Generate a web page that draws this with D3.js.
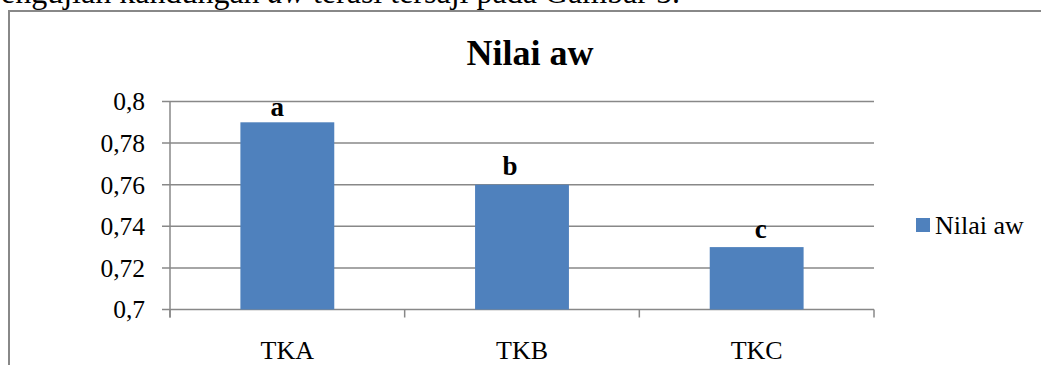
<!DOCTYPE html>
<html>
<head>
<meta charset="utf-8">
<script src="https://cdn.jsdelivr.net/npm/d3@7"></script>
<style>
  body { margin: 0; background: #fff; }
  svg text { font-family: "Liberation Serif", "DejaVu Serif", "Times New Roman", serif; }
</style>
</head>
<body>
<svg id="chart"></svg>
<script>
// data
const categories = ["TKA", "TKB", "TKC"];
const awValues = [0.79, 0.76, 0.73];
const sigLetters = ["a", "b", "c"];
const yTicks = [0.7, 0.72, 0.74, 0.76, 0.78, 0.8];
const yTickLabels = ["0,7", "0,72", "0,74", "0,76", "0,78", "0,8"];
const seriesName = "Nilai aw";

const W = 1041, H = 365;
const plot = {left: 170, right: 874, top: 101.5, bottom: 309.5};
const barColor = "#4f81bd";
const lineColor = "#888888";
const serif = "Liberation Serif, DejaVu Serif, serif";

const svg = d3.select("#chart")
    .attr("width", W)
    .attr("height", H)
    .attr("font-family", serif);

// caption text from the page above (cut off by the crop)
const caption = svg.append("text")
    .attr("x", -15)
    .attr("y", 3)
    .attr("font-size", 32)
    .attr("fill", "#000");
caption.append("tspan").text("pengujian kandungan ");
caption.append("tspan").attr("font-style", "italic").text("aw");
caption.append("tspan").text(" terasi tersaji pada Gambar 5.");

// chart frame (only left and top edges show)
svg.append("path")
    .attr("d", `M9,${H} L9,11 L${W},11`)
    .attr("fill", "none")
    .attr("stroke", lineColor)
    .attr("stroke-width", 2);

// scales
const x = d3.scaleBand()
    .domain(categories)
    .range([plot.left, plot.right])
    .paddingInner(0.6)
    .paddingOuter(0.3);

const y = d3.scaleLinear()
    .domain([0.7, 0.8])
    .range([plot.bottom, plot.top]);

// gridlines + y ticks
svg.append("g")
    .selectAll("line")
    .data(yTicks)
    .join("line")
        .attr("x1", plot.left - 8)
        .attr("x2", plot.right)
        .attr("y1", d => y(d))
        .attr("y2", d => y(d))
        .attr("stroke", lineColor)
        .attr("stroke-width", 1.5);

// y tick labels
svg.append("g")
    .selectAll("text")
    .data(yTicks)
    .join("text")
        .attr("x", plot.left - 25)
        .attr("y", d => y(d))
        .attr("dy", "0.35em")
        .attr("text-anchor", "end")
        .attr("font-size", 25.5)
        .text((d, i) => yTickLabels[i]);

// bars
svg.append("g")
    .selectAll("rect")
    .data(awValues)
    .join("rect")
        .attr("x", (d, i) => x(categories[i]))
        .attr("y", d => y(d))
        .attr("width", x.bandwidth())
        .attr("height", d => y(0.7) - y(d))
        .attr("fill", barColor);

// y axis line runs down to the category tick length
svg.append("line")
    .attr("x1", plot.left).attr("x2", plot.left)
    .attr("y1", plot.top).attr("y2", plot.bottom + 8)
    .attr("stroke", lineColor).attr("stroke-width", 1.5);

// category boundary ticks
const halfGap = x.step() * x.paddingInner() / 2;
const bounds = categories.map(c => x(c) - halfGap)
    .concat([x(categories[categories.length - 1]) + x.bandwidth() + halfGap]);
svg.append("g")
    .selectAll("line")
    .data(bounds)
    .join("line")
        .attr("x1", d => d).attr("x2", d => d)
        .attr("y1", plot.bottom).attr("y2", plot.bottom + 8)
        .attr("stroke", lineColor).attr("stroke-width", 1.5);

// category labels
svg.append("g")
    .selectAll("text")
    .data(categories)
    .join("text")
        .attr("x", d => x(d) + x.bandwidth() / 2)
        .attr("y", 359)
        .attr("text-anchor", "middle")
        .attr("font-size", 26)
        .text(d => d);

// significance letters (hand-placed in the original, nudged a bit)
const letterNudge = [[-10, -6], [-12, -9.5], [4, -9.5]];
svg.append("g")
    .selectAll("text")
    .data(awValues)
    .join("text")
        .attr("x", (d, i) => x(categories[i]) + x.bandwidth() / 2 + letterNudge[i][0])
        .attr("y", (d, i) => y(d) + letterNudge[i][1])
        .attr("text-anchor", "middle")
        .attr("font-size", 27)
        .attr("font-weight", "bold")
        .text((d, i) => sigLetters[i]);

// title
svg.append("text")
    .attr("x", 530)
    .attr("y", 65)
    .attr("text-anchor", "middle")
    .attr("font-size", 36)
    .attr("font-weight", "bold")
    .text(seriesName);

// legend
const legend = svg.append("g").attr("transform", "translate(916,218)");
legend.append("rect")
    .attr("width", 14).attr("height", 14)
    .attr("fill", barColor);
legend.append("text")
    .attr("x", 19)
    .attr("y", 16)
    .attr("font-size", 26)
    .text(seriesName);
</script>
</body>
</html>
